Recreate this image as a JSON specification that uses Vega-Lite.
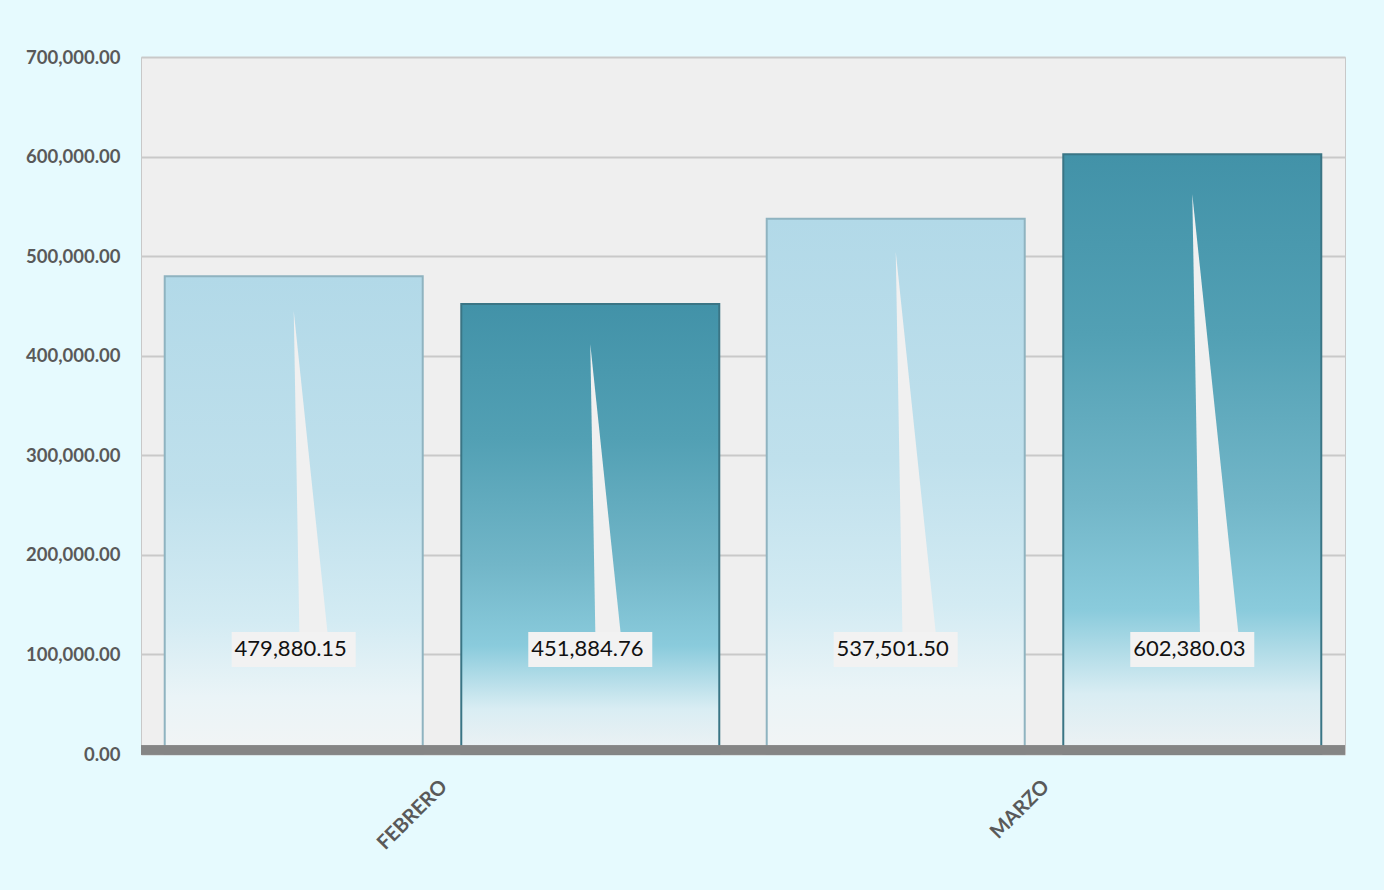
{
  "$schema": "https://vega.github.io/schema/vega-lite/v6.json",
  "width": 1204,
  "height": 697,
  "autosize": {"type": "none"},
  "padding": {"left": 141, "top": 57, "right": 39, "bottom": 136},
  "background": "#E6FAFE",
  "config": {
    "view": {"fill": "#EFEFEF", "stroke": "#C8C8C8", "strokeWidth": 1},
    "font": "Lato",
    "axis": {"labelFont": "Lato"}
  },
  "data": {
    "values": [
      {"mes": "FEBRERO", "serie": "A", "valor": 479880.15},
      {"mes": "FEBRERO", "serie": "B", "valor": 451884.76},
      {"mes": "MARZO", "serie": "A", "valor": 537501.50},
      {"mes": "MARZO", "serie": "B", "valor": 602380.03}
    ]
  },
  "layer": [
    {
      "mark": {"type": "bar", "opacity": 1, "strokeWidth": 2},
      "encoding": {
        "x": {
          "field": "mes", "type": "nominal", "sort": null,
          "scale": {"paddingInner": 0, "paddingOuter": 0},
          "axis": {
            "title": null, "labelAngle": -45, "labelFontSize": 20, "labelFontWeight": "bold",
            "labelColor": "#595959", "labelPadding": 22, "labelOffset": -5, "ticks": false, "domain": false
          }
        },
        "xOffset": {"field": "serie", "type": "nominal", "scale": {"paddingInner": 0.13, "paddingOuter": 0.08}},
        "y": {
          "field": "valor", "type": "quantitative",
          "scale": {"domain": [0, 700000], "nice": false},
          "axis": {
            "title": null, "values": [0, 100000, 200000, 300000, 400000, 500000, 600000, 700000],
            "format": ",.2f", "labelFontSize": 18.5, "labelFontWeight": "bold", "labelColor": "#595959",
            "labelPadding": 21, "ticks": false, "domain": false,
            "gridColor": "#C9C9C9", "gridWidth": 2
          }
        },
        "fill": {
          "condition": {
            "test": "datum.serie === 'A'",
            "value": {
              "gradient": "linear", "x1": 0, "y1": 0, "x2": 0, "y2": 1,
              "stops": [
                {"offset": 0, "color": "#B2D9E8"},
                {"offset": 0.45, "color": "#BFE0EC"},
                {"offset": 0.72, "color": "#D3EBF3"},
                {"offset": 0.88, "color": "#EAF4F7"},
                {"offset": 1, "color": "#F2F4F5"}
              ]
            }
          },
          "value": {
            "gradient": "linear", "x1": 0, "y1": 0, "x2": 0, "y2": 1,
            "stops": [
              {"offset": 0, "color": "#4292A8"},
              {"offset": 0.3, "color": "#52A0B4"},
              {"offset": 0.58, "color": "#72B6C8"},
              {"offset": 0.76, "color": "#8ACBDC"},
              {"offset": 0.9, "color": "#D9EDF3"},
              {"offset": 1, "color": "#EEF2F4"}
            ]
          }
        },
        "stroke": {
          "condition": {"test": "datum.serie === 'A'", "value": "#8FB3C0"},
          "value": "#3A7585"
        }
      }
    },
    {
      "mark": {"type": "point", "shape": "M 0 -2 L 0.21 0 L 0.035 0 Z", "filled": true, "fill": "#F0F0F0", "opacity": 1, "strokeWidth": 0},
      "encoding": {
        "x": {"field": "mes", "type": "nominal", "sort": null},
        "xOffset": {"field": "serie", "type": "nominal"},
        "y": {"datum": 122000},
        "size": {
          "field": "valor", "type": "quantitative", "legend": null,
          "scale": {"type": "linear", "zero": false, "domain": [451884.76, 602380.03], "range": [83290, 192195]}
        }
      }
    },
    {
      "mark": {"type": "point", "shape": "M -1 -0.282 L 1 -0.282 L 1 0.282 L -1 0.282 Z", "filled": true, "fill": "#F2F2F2", "opacity": 1, "strokeWidth": 0, "size": 15376},
      "encoding": {
        "x": {"field": "mes", "type": "nominal", "sort": null},
        "xOffset": {"field": "serie", "type": "nominal"},
        "y": {"datum": 105000}
      }
    },
    {
      "mark": {"type": "text", "font": "Lato", "fontSize": 22, "color": "#111111", "baseline": "middle", "align": "center", "dx": -3},
      "encoding": {
        "x": {"field": "mes", "type": "nominal", "sort": null},
        "xOffset": {"field": "serie", "type": "nominal"},
        "y": {"datum": 105000},
        "text": {"field": "valor", "type": "quantitative", "format": ",.2f"}
      }
    },
    {
      "mark": {"type": "rule", "color": "#858585", "strokeWidth": 9, "yOffset": -4},
      "encoding": {"y": {"datum": 0}}
    }
  ]
}
